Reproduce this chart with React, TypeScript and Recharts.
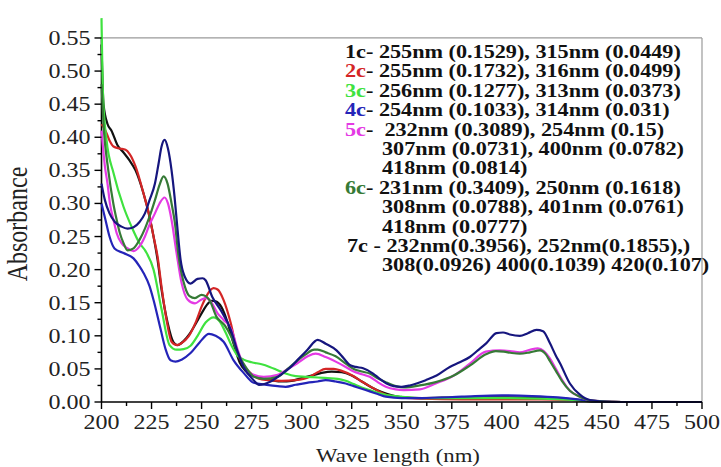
import React from "react";
import { LineChart, Line, XAxis, YAxis, ReferenceLine } from "recharts";

// wavelength (nm), absorbance pairs
const s1c: [number, number][] = [
  [200, 0.54], [201, 0.45], [203, 0.42], [205, 0.41], [208, 0.388], [211, 0.377], [214, 0.365],
  [217, 0.35], [221, 0.315], [224, 0.28], [226, 0.25], [228, 0.215], [230, 0.17], [233, 0.12],
  [236, 0.09], [238, 0.086], [241, 0.092], [244, 0.103], [247, 0.118], [250, 0.134], [253, 0.148],
  [255, 0.153], [257, 0.152], [260, 0.143], [263, 0.12], [266, 0.088], [269, 0.06], [272, 0.047],
  [276, 0.039], [280, 0.036], [285, 0.033], [290, 0.031], [295, 0.032], [300, 0.036], [305, 0.04],
  [310, 0.044], [315, 0.046], [320, 0.045], [325, 0.04], [330, 0.031], [335, 0.022], [340, 0.015],
  [345, 0.01], [350, 0.007], [360, 0.006], [380, 0.007], [400, 0.007], [420, 0.006], [435, 0.004],
  [445, 0.001], [460, 0], [500, 0],
];

const s2c: [number, number][] = [
  [200, 0.42], [202, 0.41], [204, 0.395], [206, 0.386], [209, 0.383], [212, 0.381], [214, 0.375],
  [217, 0.356], [221, 0.315], [224, 0.28], [226, 0.25], [228, 0.22], [230, 0.174], [232.5, 0.124],
  [235, 0.091], [237.7, 0.086], [240, 0.089], [243.5, 0.099], [247, 0.12], [250, 0.144], [253, 0.163],
  [256, 0.172], [258, 0.17], [261, 0.154], [264.6, 0.119], [268, 0.074], [271, 0.055], [274, 0.045],
  [278, 0.036], [283, 0.033], [290, 0.032], [297, 0.033], [304, 0.038], [308, 0.045], [312, 0.05],
  [316, 0.05], [320, 0.047], [326, 0.039], [330, 0.031], [334, 0.024], [338, 0.017], [342, 0.011],
  [350, 0.007], [360, 0.005], [380, 0.004], [400, 0.004], [420, 0.004], [435, 0.003], [445, 0.001],
  [460, 0], [500, 0],
];

const s3c: [number, number][] = [
  [200, 0.58], [200.8, 0.46], [202.5, 0.396], [206, 0.346], [211, 0.295], [215, 0.265], [219, 0.24],
  [222, 0.228], [226, 0.2], [230, 0.14], [234, 0.086], [237.5, 0.079], [241, 0.08], [244.5, 0.085],
  [248, 0.1], [252, 0.12], [256, 0.128], [259, 0.122], [262, 0.105], [265, 0.085], [268, 0.07],
  [271, 0.064], [275, 0.06], [280, 0.057], [284, 0.053], [288, 0.048], [292, 0.043], [297, 0.039],
  [302, 0.038], [308, 0.037], [313, 0.036], [318, 0.035], [322, 0.032], [326, 0.027], [330, 0.022],
  [334, 0.018], [338, 0.014], [342, 0.011], [350, 0.008], [360, 0.006], [380, 0.006], [400, 0.006],
  [420, 0.005], [435, 0.003], [445, 0.001], [460, 0], [500, 0],
];

const s4c: [number, number][] = [
  [200, 0.3], [202, 0.275], [204, 0.25], [206.5, 0.232], [211, 0.225], [216, 0.217], [219, 0.205],
  [221, 0.195], [224, 0.175], [226, 0.154], [229.6, 0.109], [232, 0.08], [234.5, 0.063], [237, 0.061],
  [240, 0.064], [244.5, 0.074], [249, 0.09], [253.7, 0.103], [257, 0.1], [261, 0.091], [266, 0.063],
  [271, 0.044], [276, 0.029], [282.5, 0.026], [288, 0.024], [292, 0.023], [297, 0.026], [302.6, 0.029],
  [308, 0.031], [312, 0.033], [317, 0.031], [322, 0.028], [326, 0.024], [330, 0.02], [334, 0.016],
  [338, 0.012], [342, 0.008], [350, 0.006], [360, 0.006], [380, 0.008], [400, 0.01], [415, 0.009],
  [428, 0.007], [438, 0.004], [445, 0.001], [460, 0], [500, 0],
];

const s5c: [number, number][] = [
  [200, 0.41], [201.7, 0.356], [203, 0.33], [204.2, 0.3], [206, 0.275], [207.6, 0.255], [210, 0.24],
  [212.6, 0.233], [216, 0.228], [219, 0.235], [221.7, 0.25], [224, 0.268], [226.7, 0.285], [229, 0.3],
  [231.5, 0.309], [233.2, 0.3], [235, 0.275], [237.5, 0.225], [240, 0.18], [243, 0.155], [246.7, 0.149],
  [250, 0.155], [252.5, 0.157], [255, 0.15], [258, 0.134], [261, 0.124], [265, 0.109], [268, 0.079],
  [271.4, 0.053], [276, 0.041], [281, 0.038], [288, 0.041], [293, 0.05], [298, 0.059], [303, 0.069],
  [307, 0.073], [312, 0.068], [317, 0.061], [322, 0.053], [326, 0.046], [330, 0.042], [334, 0.038],
  [338, 0.03], [342, 0.023], [347, 0.019], [351, 0.018], [359, 0.019], [367, 0.028], [376, 0.04],
  [384, 0.058], [392, 0.076], [399, 0.078], [404, 0.077], [409, 0.075], [414, 0.079], [418, 0.081],
  [421, 0.077], [424, 0.066], [427, 0.05], [430, 0.034], [434, 0.017], [439, 0.008], [445, 0.002],
  [460, 0], [500, 0],
];

const s6c: [number, number][] = [
  [200, 0.48], [201, 0.42], [203.4, 0.35], [205.9, 0.3], [207.6, 0.275], [209.2, 0.255], [211, 0.24],
  [213, 0.229], [216, 0.232], [219, 0.245], [221.7, 0.262], [224, 0.28], [226.7, 0.305], [229, 0.328],
  [231, 0.341], [233, 0.33], [235, 0.3], [236.7, 0.27], [238.3, 0.225], [241.7, 0.174], [244, 0.16],
  [246.7, 0.157], [250, 0.162], [252, 0.16], [254, 0.154], [257.4, 0.129], [261.5, 0.116],
  [264.9, 0.098], [268, 0.074], [272, 0.053], [276.3, 0.038], [281.3, 0.035], [288, 0.038], [293, 0.05],
  [298, 0.063], [302, 0.072], [306.3, 0.079], [308, 0.079], [312, 0.075], [317, 0.069], [322, 0.058],
  [326, 0.05], [330, 0.046], [334, 0.043], [338, 0.036], [342, 0.03], [347, 0.024], [351, 0.022],
  [359, 0.025], [367, 0.03], [376, 0.04], [384, 0.055], [392, 0.072], [397, 0.077], [401, 0.076],
  [405, 0.074], [409, 0.073], [414, 0.075], [419, 0.078], [422, 0.072], [424, 0.062], [427, 0.047],
  [430, 0.032], [434, 0.017], [439, 0.008], [445, 0.002], [460, 0], [500, 0],
];

const s7c: [number, number][] = [
  [200, 0.33], [201.7, 0.305], [204, 0.285], [206.7, 0.272], [210, 0.265], [213, 0.262], [216, 0.264],
  [219, 0.272], [221.7, 0.285], [224, 0.305], [226.7, 0.33], [228.5, 0.36], [230, 0.386], [231.5, 0.396],
  [233.2, 0.383], [235, 0.35], [236.5, 0.31], [238, 0.26], [239.5, 0.215], [241.5, 0.19], [244.5, 0.179],
  [248, 0.186], [250.5, 0.187], [252, 0.184], [255.3, 0.159], [259.5, 0.139], [264.6, 0.109],
  [268, 0.076], [271, 0.053], [276, 0.033], [278.7, 0.026], [284.5, 0.031], [290, 0.042], [294.6, 0.053],
  [298.7, 0.066], [302.9, 0.079], [308, 0.094], [312, 0.088], [317.4, 0.078], [321, 0.066], [324, 0.056],
  [327, 0.053], [330.7, 0.051], [335.7, 0.043], [339, 0.035], [342.4, 0.028], [346, 0.024], [350, 0.023],
  [354, 0.025], [357.4, 0.028], [362, 0.033], [367.4, 0.04], [374, 0.053], [379, 0.06], [384, 0.068],
  [388, 0.078], [392.3, 0.089], [397.3, 0.104], [400.6, 0.105], [404, 0.102], [409, 0.1], [413, 0.104],
  [417.3, 0.109], [420.6, 0.107], [424, 0.089], [427, 0.07], [429, 0.059], [434, 0.028], [439, 0.011],
  [444, 0.003], [455, 0], [500, 0],
];

const seriesNames = ["1c", "2c", "3c", "4c", "5c", "6c", "7c"];
const seriesPoints = [s1c, s2c, s3c, s4c, s5c, s6c, s7c];
const seriesColors = ["#111111", "#d42626", "#3fe23f", "#2424b8", "#e43ae4", "#367a36", "#16167e"];

const xTicks = [200, 212.5, 225, 237.5, 250, 262.5, 275, 287.5, 300, 312.5, 325, 337.5, 350, 362.5, 375, 387.5, 400, 412.5, 425, 437.5, 450, 462.5, 475, 487.5, 500];
const yTicks = [0, 0.025, 0.05, 0.075, 0.1, 0.125, 0.15, 0.175, 0.2, 0.225, 0.25, 0.275, 0.3, 0.325, 0.35, 0.375, 0.4, 0.425, 0.45, 0.475, 0.5, 0.525, 0.55];

// legend rows: coloured label, rest of the text, indented continuation rows have no label
const legendLabels = ["1c", "2c", "3c", "4c", "5c", "", "", "6c", "", "", "", ""];
const legendLabelColors = ["#111111", "#d42626", "#3fe23f", "#2424b8", "#e43ae4", "", "", "#367a36", "", "", "", ""];
const legendTexts = [
  "- 255nm (0.1529), 315nm (0.0449)",
  "- 255nm (0.1732), 316nm (0.0499)",
  "- 256nm (0.1277), 313nm (0.0373)",
  "- 254nm (0.1033), 314nm (0.031)",
  "-  232nm (0.3089), 254nm (0.15)",
  "307nm (0.0731), 400nm (0.0782)",
  "418nm (0.0814)",
  "- 231nm (0.3409), 250nm (0.1618)",
  "308nm (0.0788), 401nm (0.0761)",
  "418nm (0.0777)",
  "7c - 232nm(0.3956), 252nm(0.1855),)",
  "308(0.0926) 400(0.1039) 420(0.107)",
];

const serif = "'Liberation Serif', 'Times New Roman', serif";

const isMajor = (v: number, step: number) => Math.abs(v / step - Math.round(v / step)) < 1e-6;

const YTick = (props: any) => {
  const { x, y, payload } = props;
  const v = payload.value as number;
  const major = isMajor(v, 0.05);
  return (
    <g>
      <line x1={x - (major ? 7 : 4)} x2={x} y1={y} y2={y} stroke="#000" strokeWidth={1.4} />
      {major && (
        <text
          transform={`translate(${x - 11},${y + 7}) scale(1.2,1)`}
          textAnchor="end"
          fontFamily={serif}
          fontSize={20}
          fill="#222"
        >
          {v.toFixed(2)}
        </text>
      )}
    </g>
  );
};

const XTick = (props: any) => {
  const { x, y, payload } = props;
  const v = payload.value as number;
  const major = isMajor(v, 25);
  return (
    <g>
      <line x1={x} x2={x} y1={y} y2={y + (major ? 7 : 4)} stroke="#000" strokeWidth={1.4} />
      {major && (
        <text
          transform={`translate(${x},${y + 27}) scale(1.2,1)`}
          textAnchor="middle"
          fontFamily={serif}
          fontSize={20}
          fill="#222"
        >
          {v}
        </text>
      )}
    </g>
  );
};

export default function App() {
  const series = seriesPoints.map((pts) => pts.map(([nm, a]) => ({ nm, a })));

  return (
    <div style={{ position: "absolute", left: 0, top: 0, width: 721, height: 467, background: "#fff" }}>
      <LineChart
        width={721}
        height={467}
        margin={{ top: 11.5, right: 19, bottom: 35, left: 41.5 }}
      >
        <XAxis
          type="number"
          dataKey="nm"
          domain={[200, 500]}
          ticks={xTicks}
          interval={0}
          height={30}
          tickSize={0}
          tickMargin={0}
          tickLine={false}
          tick={<XTick />}
          axisLine={{ stroke: "#000", strokeWidth: 1.6 }}
          allowDuplicatedCategory={false}
        />
        <YAxis
          type="number"
          domain={[0, 0.59]}
          ticks={yTicks}
          interval={0}
          width={60}
          tickSize={0}
          tickMargin={0}
          tickLine={false}
          tick={<YTick />}
          axisLine={false}
        />
        <ReferenceLine segment={[{ x: 200, y: 0.55 }, { x: 500, y: 0.55 }]} stroke="#9a9a9a" strokeWidth={1.2} />
        <ReferenceLine segment={[{ x: 500, y: 0 }, { x: 500, y: 0.55 }]} stroke="#9a9a9a" strokeWidth={1.2} />
        <ReferenceLine segment={[{ x: 200, y: 0 }, { x: 200, y: 0.55 }]} stroke="#000" strokeWidth={1.6} />
        {series.map((d, i) => (
          <Line
            key={seriesNames[i]}
            data={d}
            dataKey="a"
            name={seriesNames[i]}
            type="monotone"
            stroke={seriesColors[i]}
            strokeWidth={2.2}
            dot={false}
            activeDot={false}
            isAnimationActive={false}
          />
        ))}
      </LineChart>
      <svg
        width={721}
        height={467}
        style={{ position: "absolute", left: 0, top: 0, pointerEvents: "none" }}
      >
        {legendTexts.map((t, i) => {
          const cy = 52 + i * 19.4 + 6;
          const label = legendLabels[i];
          const x = label ? 345 : i === 10 ? 347 : 382;
          return (
            <text
              key={i}
              transform={`translate(${x},${cy}) scale(1.2,1)`}
              fontFamily={serif}
              fontWeight="bold"
              fontSize={18.5}
              fill="#111"
              xmlSpace="preserve"
            >
              {label && <tspan fill={legendLabelColors[i]}>{label}</tspan>}
              <tspan>{t}</tspan>
            </text>
          );
        })}
        <text
          transform="translate(27,224) scale(1.2,1) rotate(-90)"
          textAnchor="middle"
          fontFamily={serif}
          fontSize={24}
          fill="#222"
        >
          Absorbance
        </text>
        <text
          transform="translate(398,462) scale(1.2,1)"
          textAnchor="middle"
          fontFamily={serif}
          fontSize={19}
          fill="#222"
        >
          Wave length (nm)
        </text>
      </svg>
    </div>
  );
}
